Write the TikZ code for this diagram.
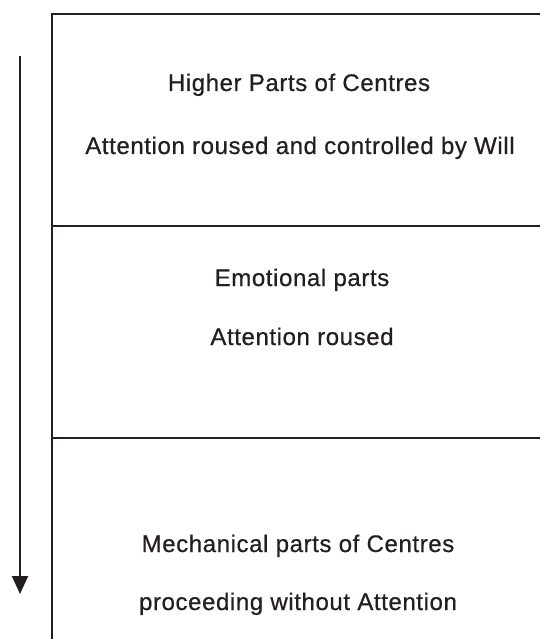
\documentclass[tikz,border=0pt]{standalone}
\usepackage{fontspec}
\setmainfont{Liberation Sans}[LetterSpace=2.5,FakeBold=0.6]
\usetikzlibrary{arrows.meta}
\definecolor{ink}{HTML}{231F20}
\begin{document}
\begin{tikzpicture}[x=1pt,y=1pt,
  frame/.style={draw=ink,line width=2.7pt},
  label/.style={text=ink,font=\fontsize{24}{28}\selectfont,inner sep=0pt,anchor=base},
  flow/.style={draw=ink,line width=2.2pt,-{Triangle[length=18pt,width=16pt]}}]
\useasboundingbox (0,0) rectangle (539,-639);
% frame
\draw[frame] (52,-700) -- (52,-14) -- (560,-14);
\draw[frame] (52,-226) -- (560,-226);
\draw[frame] (52,-438) -- (560,-438);
% texts
\node[label] (h1) at (299,-91) {Higher Parts of Centres};
\node[label] (h2) at (300,-154) {Attention roused and controlled by Will};
\node[label] (e1) at (302,-286) {Emotional parts};
\node[label] (e2) at (302,-345) {Attention roused};
\node[label] (m1) at (298,-552) {Mechanical parts of Centres};
\node[label] (m2) at (298,-610) {proceeding without Attention};
% arrow
\coordinate (atop) at (20,-56);
\coordinate (abot) at (20,-594);
\draw[flow] (atop) -- (abot);
\end{tikzpicture}
\end{document}
